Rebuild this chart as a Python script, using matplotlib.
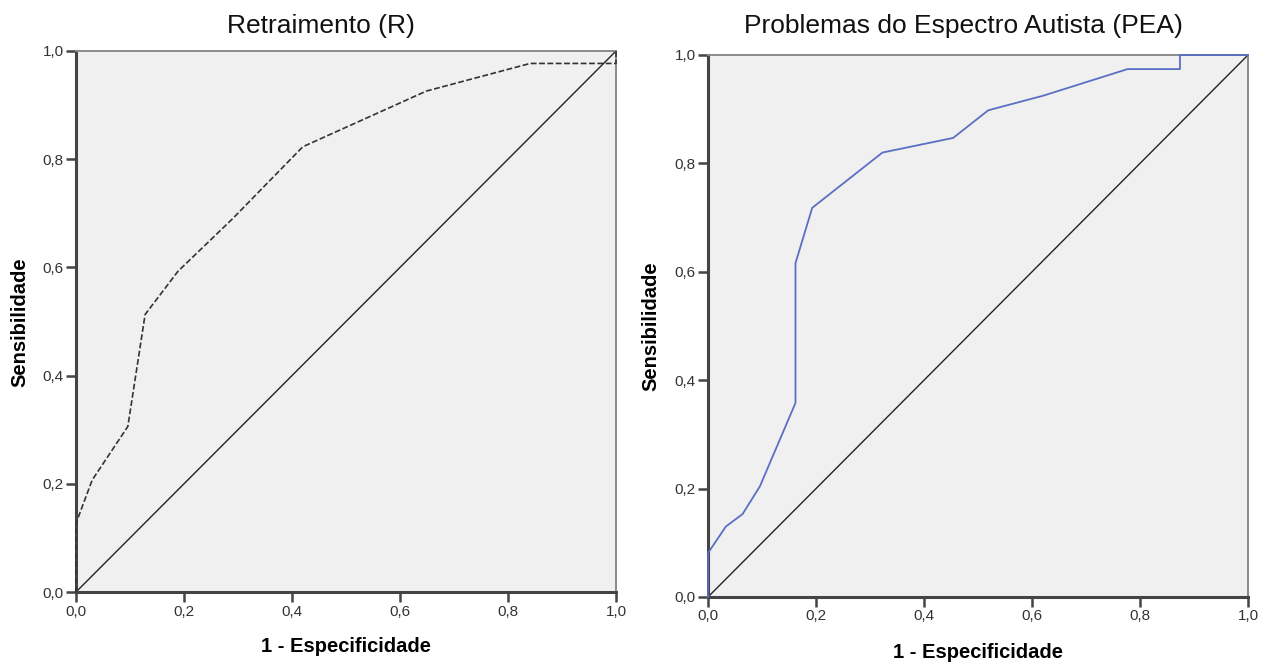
import matplotlib.pyplot as plt

plt.rcParams['font.family'] = ['Liberation Sans', 'DejaVu Sans']

# ROC curve for "Retraimento (R)"
r_fpr = [0.0, 0.0, 0.030, 0.096, 0.128, 0.189, 0.29, 0.42, 0.649, 0.841, 1.0, 1.0]
r_tpr = [0.0, 0.127, 0.207, 0.306, 0.513, 0.593, 0.69, 0.823, 0.926, 0.977, 0.977, 1.0]

# ROC curve for "Problemas do Espectro Autista (PEA)"
p_fpr = [0.0, 0.0, 0.033, 0.064, 0.096, 0.162, 0.162, 0.193, 0.323, 0.454,
         0.519, 0.621, 0.777, 0.874, 0.874, 1.0]
p_tpr = [0.0, 0.081, 0.130, 0.153, 0.204, 0.358, 0.616, 0.718, 0.820, 0.847,
         0.898, 0.925, 0.974, 0.974, 1.0, 1.0]

ticks = [0.0, 0.2, 0.4, 0.6, 0.8, 1.0]
tick_labels = ['0,0', '0,2', '0,4', '0,6', '0,8', '1,0']

W, H = 1263, 662
fig = plt.figure(figsize=(W / 100, H / 100), dpi=100)


def setup(ax):
    ax.set_facecolor('#f0f0f0')
    ax.set_xlim(0, 1)
    ax.set_ylim(0, 1)
    ax.set_xticks(ticks)
    ax.set_yticks(ticks)
    ax.set_xticklabels(tick_labels)
    ax.set_yticklabels(tick_labels)
    ax.tick_params(direction='out', length=7, width=1.8, color='#444444',
                   labelsize=11, labelcolor='#333333', pad=2)
    for side in ['left', 'bottom']:
        ax.spines[side].set_color('#444444')
        ax.spines[side].set_linewidth(2.2)
    for side in ['top', 'right']:
        ax.spines[side].set_color('#8a8a8a')
        ax.spines[side].set_linewidth(1.4)
    ax.plot([0, 1], [0, 1], color='#222222', lw=1.0, zorder=2, clip_on=False)


ax1 = fig.add_axes([76 / W, 1 - 592 / H, 540 / W, 541 / H])
setup(ax1)
ax1.plot(r_fpr, r_tpr, color='#333333', lw=1.2, ls=(0, (3.5, 1.5)),
         zorder=3, clip_on=False)

ax2 = fig.add_axes([708 / W, 1 - 597 / H, 540 / W, 542 / H])
setup(ax2)
ax2.plot(p_fpr, p_tpr, color='#5a6fc4', lw=1.3, zorder=3, clip_on=False)

# titles
fig.text(321 / W, 1 - 33 / H, 'Retraimento (R)', fontsize=19,
         ha='center', va='baseline', color='#111111')
fig.text(963 / W, 1 - 33 / H, 'Problemas do Espectro Autista (PEA)', fontsize=19,
         ha='center', va='baseline', color='#111111')

# axis labels
for x, y in [(346, 647), (978, 652)]:
    fig.text(x / W, 1 - y / H, '1 - Especificidade', fontsize=14.5,
             fontweight='bold', ha='center', va='center')
for x, y in [(20, 322), (651, 326)]:
    fig.text(x / W, 1 - y / H, 'Sensibilidade', fontsize=14.5,
             fontweight='bold', ha='center', va='center', rotation=90)

fig.savefig('out.png', dpi=100)
